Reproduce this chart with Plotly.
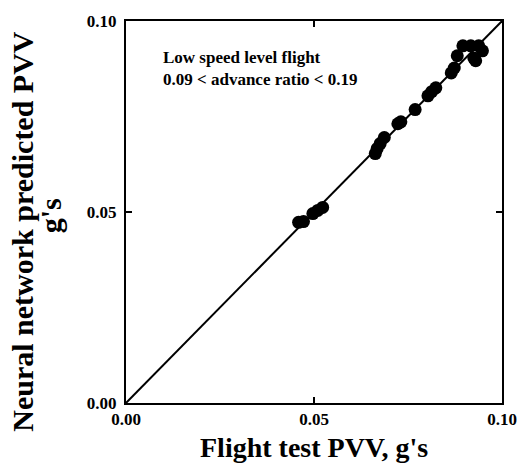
import plotly.graph_objects as go

flight_test = [0.0459, 0.0472, 0.0497, 0.0510, 0.0523, 0.0663, 0.0668, 0.0676, 0.0687,
               0.0723, 0.0731, 0.0769, 0.0803, 0.0813, 0.0824, 0.0865, 0.0873, 0.0881,
               0.0896, 0.0917, 0.0938, 0.0948, 0.0925, 0.0930]
predicted = [0.0473, 0.0475, 0.0496, 0.0504, 0.0512, 0.0653, 0.0666, 0.0679, 0.0695,
             0.0731, 0.0736, 0.0768, 0.0804, 0.0815, 0.0825, 0.0864, 0.0877, 0.0909,
             0.0935, 0.0935, 0.0935, 0.0922, 0.0903, 0.0896]
diag = [0.0, 0.1]
tick_vals = [0.0, 0.05, 0.10]
tick_text = ["0.00", "0.05", "0.10"]

FONT = "Liberation Serif"

fig = go.Figure()
fig.add_trace(go.Scatter(x=diag, y=diag, mode="lines",
                         line=dict(color="black", width=2), showlegend=False))
fig.add_trace(go.Scatter(x=flight_test, y=predicted, mode="markers",
                         marker=dict(color="black", size=13, line=dict(width=0)),
                         showlegend=False))

axis_common = dict(range=[0, 0.1], tickvals=tick_vals, ticktext=tick_text,
                   ticks="inside", ticklen=6, tickwidth=2, tickcolor="black",
                   showline=True, linecolor="black", linewidth=2, mirror="ticks",
                   showgrid=False, zeroline=False,
                   tickfont=dict(family=FONT, size=17, color="black", weight="bold"))

def txt(text, x, y, size, xref="x", yref="y", xanchor="left", yanchor="middle", angle=0,
        align="center"):
    return dict(text=text, x=x, y=y, xref=xref, yref=yref, xanchor=xanchor,
                yanchor=yanchor, textangle=angle, showarrow=False, align=align,
                font=dict(family=FONT, size=size, color="black", weight="bold"))

fig.update_layout(
    width=529, height=467,
    margin=dict(l=126, r=17, t=20, b=64),
    plot_bgcolor="white", paper_bgcolor="white",
    xaxis=dict(**axis_common),
    yaxis=dict(**axis_common, ticklabelstandoff=4),
    annotations=[
        txt("Low speed level flight<br>0.09 < advance ratio < 0.19", 0.0093, 0.0876, 17,
            align="left"),
        txt("Flight test PVV, g's", 0.5, -0.07, 28, xref="paper", yref="paper",
            xanchor="center", yanchor="top"),
        txt("Neural network predicted PVV", -0.275, 0.45, 30, xref="paper", yref="paper",
            xanchor="center", yanchor="middle", angle=-90),
        txt("g's", -0.200, 0.491, 30, xref="paper", yref="paper",
            xanchor="center", yanchor="middle", angle=-90),
    ],
)

fig.write_html("out.html")
